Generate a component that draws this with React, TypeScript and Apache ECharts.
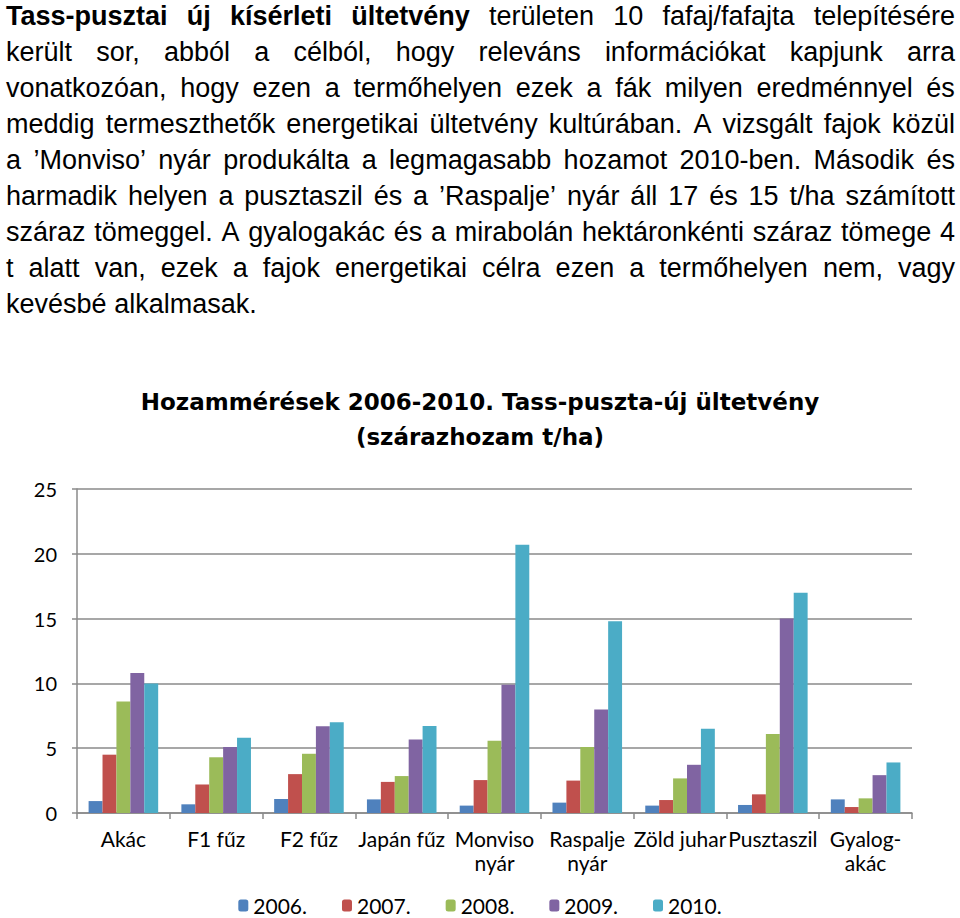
import React, { useEffect, useRef } from "react";
import * as echarts from "echarts";

const categories = [
  "Akác",
  "F1 fűz",
  "F2 fűz",
  "Japán fűz",
  "Monviso\nnyár",
  "Raspalje\nnyár",
  "Zöld juhar",
  "Pusztaszil",
  "Gyalog-\nakác",
];
const seriesNames = ["2006.", "2007.", "2008.", "2009.", "2010."];
const v2006 = [0.92, 0.67, 1.08, 1.05, 0.57, 0.8, 0.57, 0.62, 1.05];
const v2007 = [4.5, 2.2, 3.0, 2.4, 2.54, 2.5, 1.0, 1.44, 0.46];
const v2008 = [8.6, 4.3, 4.57, 2.85, 5.57, 5.1, 2.67, 6.1, 1.13];
const v2009 = [10.8, 5.1, 6.7, 5.67, 9.9, 7.98, 3.72, 15.0, 2.92];
const v2010 = [10.0, 5.8, 7.0, 6.72, 20.7, 14.8, 6.5, 17.0, 3.9];
const colors = ["#4F81BD", "#C0504D", "#9BBB59", "#8064A2", "#4BACC6"];
const yTicks = [0, 5, 10, 15, 20, 25];

const paragraphLines: { text: string; bold?: boolean }[][] = [
  [
    { text: "Tass-pusztai új kísérleti ültetvény", bold: true },
    { text: "területen 10 fafaj/fafajta telepítésére" },
  ],
  [{ text: "került sor, abból a célból, hogy releváns információkat kapjunk arra" }],
  [{ text: "vonatkozóan, hogy ezen a termőhelyen ezek a fák milyen eredménnyel és" }],
  [{ text: "meddig termeszthetők energetikai ültetvény kultúrában. A vizsgált fajok közül" }],
  [{ text: "a ’Monviso’ nyár produkálta a legmagasabb hozamot 2010-ben. Második és" }],
  [{ text: "harmadik helyen a pusztaszil és a ’Raspalje’ nyár áll 17 és 15 t/ha számított" }],
  [{ text: "száraz tömeggel. A gyalogakác és a mirabolán hektáronkénti száraz tömege 4" }],
  [{ text: "t alatt van, ezek a fajok energetikai célra ezen a termőhelyen nem, vagy" }],
  [{ text: "kevésbé alkalmasak." }],
];

export default function App() {
  const ref = useRef<HTMLDivElement>(null);
  useEffect(() => {
    if (!ref.current) return;
    const chart = echarts.init(ref.current, null, { renderer: "svg" });
    const values = [v2006, v2007, v2008, v2009, v2010];
    const font = "Lato, 'DejaVu Sans', sans-serif";
    chart.setOption({
      animation: false,
      color: colors,
      title: {
        text: "Hozammérések 2006-2010. Tass-puszta-új ültetvény\n(szárazhozam t/ha)",
        left: "center",
        top: 384,
        padding: 0,
        textStyle: {
          fontFamily: "'DejaVu Sans', sans-serif",
          fontWeight: "bold",
          fontSize: 23,
          lineHeight: 35,
          color: "#000",
        },
      },
      legend: {
        data: seriesNames,
        top: 895,
        left: "center",
        padding: 0,
        itemWidth: 10,
        itemHeight: 12,
        itemGap: 35,
        textStyle: { fontFamily: font, fontSize: 21, color: "#000" },
      },
      grid: { left: 77, right: 48, top: 489, bottom: 105, containLabel: false },
      xAxis: {
        type: "category",
        data: categories,
        axisLine: { lineStyle: { color: "#8a8a8a", width: 1.5 } },
        axisTick: { show: true, length: 6, lineStyle: { color: "#8a8a8a", width: 1.5 } },
        axisLabel: {
          fontFamily: font,
          fontSize: 21,
          color: "#000",
          margin: 13,
          lineHeight: 24,
          interval: 0,
        },
      },
      yAxis: {
        type: "value",
        min: 0,
        max: 25,
        interval: 5,
        axisLine: { show: true, lineStyle: { color: "#8a8a8a", width: 1.5 } },
        axisTick: { show: true, length: 5, lineStyle: { color: "#8a8a8a", width: 1.5 } },
        splitLine: { lineStyle: { color: "#8a8a8a", width: 1.5 } },
        axisLabel: {
          fontFamily: font,
          fontSize: 20,
          color: "#000",
          margin: 20,
          formatter: (v: number) => (yTicks.includes(v) ? String(v) : ""),
        },
      },
      series: seriesNames.map((name, i) => ({
        name,
        type: "bar",
        data: values[i],
        barGap: "0%",
        barCategoryGap: "25%",
        itemStyle: { color: colors[i] },
      })),
    });
    return () => chart.dispose();
  }, []);

  return (
    <div
      style={{
        position: "absolute",
        left: 0,
        top: 0,
        width: 960,
        height: 918,
        background: "#fff",
        overflow: "hidden",
      }}
    >
      <div ref={ref} style={{ position: "absolute", left: 0, top: 0, width: 960, height: 918 }} />
      <div
        style={{
          position: "absolute",
          left: 6,
          top: -2,
          width: 949,
          fontFamily: "'Liberation Sans', Arial, sans-serif",
          fontSize: 27,
          color: "#000",
          pointerEvents: "none",
        }}
      >
        {paragraphLines.map((line, li) => {
          const words: { w: string; bold?: boolean }[] = [];
          line.forEach((seg) =>
            seg.text.split(" ").forEach((w) => words.push({ w, bold: seg.bold }))
          );
          const last = li === paragraphLines.length - 1;
          return (
            <div
              key={li}
              style={{
                height: 36,
                lineHeight: "36px",
                display: "flex",
                justifyContent: last ? "flex-start" : "space-between",
                whiteSpace: "nowrap",
                gap: last ? "0.28em" : undefined,
              }}
            >
              {words.map((wd, wi) => (
                <span key={wi} style={{ fontWeight: wd.bold ? "bold" : "normal" }}>
                  {wd.w}
                </span>
              ))}
            </div>
          );
        })}
      </div>
    </div>
  );
}
